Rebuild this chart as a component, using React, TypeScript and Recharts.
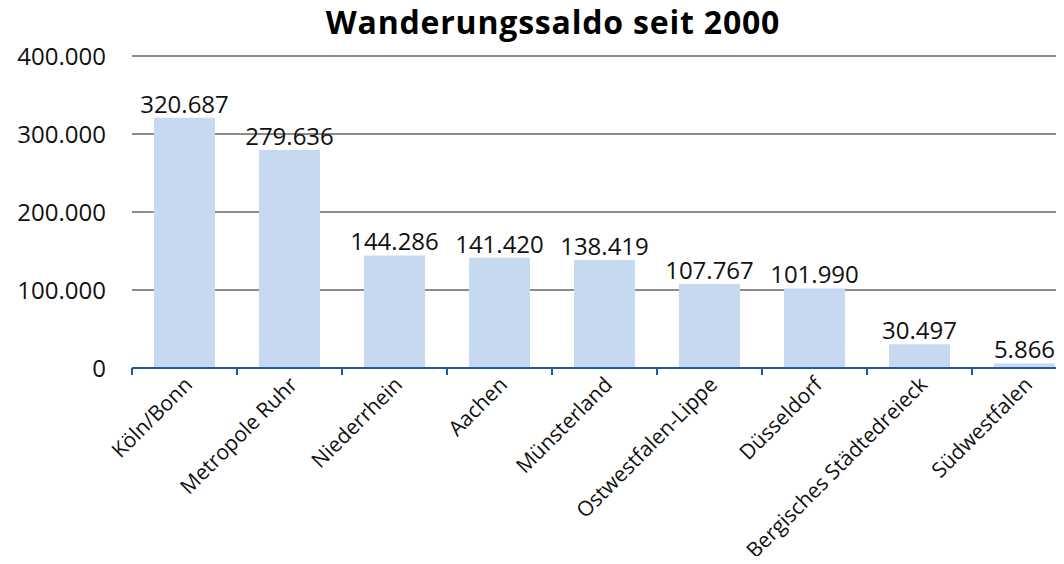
import React from 'react';
import { BarChart, Bar, XAxis, YAxis, CartesianGrid, LabelList } from 'recharts';

const regions = [
  'Köln/Bonn',
  'Metropole Ruhr',
  'Niederrhein',
  'Aachen',
  'Münsterland',
  'Ostwestfalen-Lippe',
  'Düsseldorf',
  'Bergisches Städtedreieck',
  'Südwestfalen',
];
const saldo = [320687, 279636, 144286, 141420, 138419, 107767, 101990, 30497, 5866];
const yTicks = [0, 100000, 200000, 300000, 400000];

const data = regions.map((region, i) => ({ region, saldo: saldo[i] }));

const FONT = '"Open Sans", "Noto Sans", sans-serif';
const CHART_W = 1100;
const CHART_H = 564;
const PLOT_LEFT = 132;
const PLOT_RIGHT = 1077;
const PLOT_TOP = 56;
const PLOT_BOTTOM = 368;
const BAND = (PLOT_RIGHT - PLOT_LEFT) / regions.length;

// 320687 -> "320.687"
const fmt = (v: number) => String(Math.round(v)).replace(/\B(?=(\d{3})+(?!\d))/g, '.');

function XTick({ x, y, payload, index }: any) {
  const left = x - BAND / 2;
  const ax = x + 9;
  const ay = y + 10;
  return (
    <g>
      <line x1={left} y1={y - 8} x2={left} y2={y - 1} stroke="#1f5aa6" strokeWidth={2} />
      {index === regions.length - 1 && (
        <line x1={x + BAND / 2} y1={y - 8} x2={x + BAND / 2} y2={y - 1} stroke="#1f5aa6" strokeWidth={2} />
      )}
      <text
        x={ax}
        y={ay}
        textAnchor="end"
        transform={`rotate(-45, ${ax}, ${ay})`}
        fill="#111"
        fontSize={21}
        fontFamily={FONT}
      >
        {payload.value}
      </text>
    </g>
  );
}

export default function App() {
  return (
    <div style={{ position: 'relative', margin: -8, width: 1064, height: 564, overflow: 'hidden', background: '#fff' }}>
      <div
        style={{
          position: 'absolute',
          left: 0,
          width: 1106,
          top: 0,
          textAlign: 'center',
          fontFamily: FONT,
          fontWeight: 700,
          fontSize: 32,
          letterSpacing: 0.8,
          color: '#000',
          zIndex: 1,
        }}
      >
        Wanderungssaldo seit 2000
      </div>
      <BarChart
        width={CHART_W}
        height={CHART_H}
        data={data}
        margin={{ top: PLOT_TOP, right: CHART_W - PLOT_RIGHT, bottom: 0, left: 0 }}
        barCategoryGap={22}
      >
        <CartesianGrid vertical={false} stroke="#8c8c8c" strokeWidth={2} />
        <YAxis
          width={PLOT_LEFT}
          domain={[0, 400000]}
          ticks={yTicks}
          axisLine={false}
          tickLine={false}
          tickFormatter={fmt}
          tick={{ fill: '#111', fontSize: 24, fontFamily: FONT }}
          tickMargin={20}
        />
        <XAxis
          dataKey="region"
          height={CHART_H - PLOT_BOTTOM}
          interval={0}
          axisLine={{ stroke: '#1f5aa6', strokeWidth: 2 }}
          tickLine={false}
          tick={<XTick />}
        />
        <Bar dataKey="saldo" fill="#c6d9f0" isAnimationActive={false}>
          <LabelList
            dataKey="saldo"
            position="top"
            offset={5}
            formatter={(v: any) => fmt(Number(v))}
            style={{ fill: '#111', fontSize: 24, fontFamily: FONT }}
          />
        </Bar>
      </BarChart>
    </div>
  );
}
